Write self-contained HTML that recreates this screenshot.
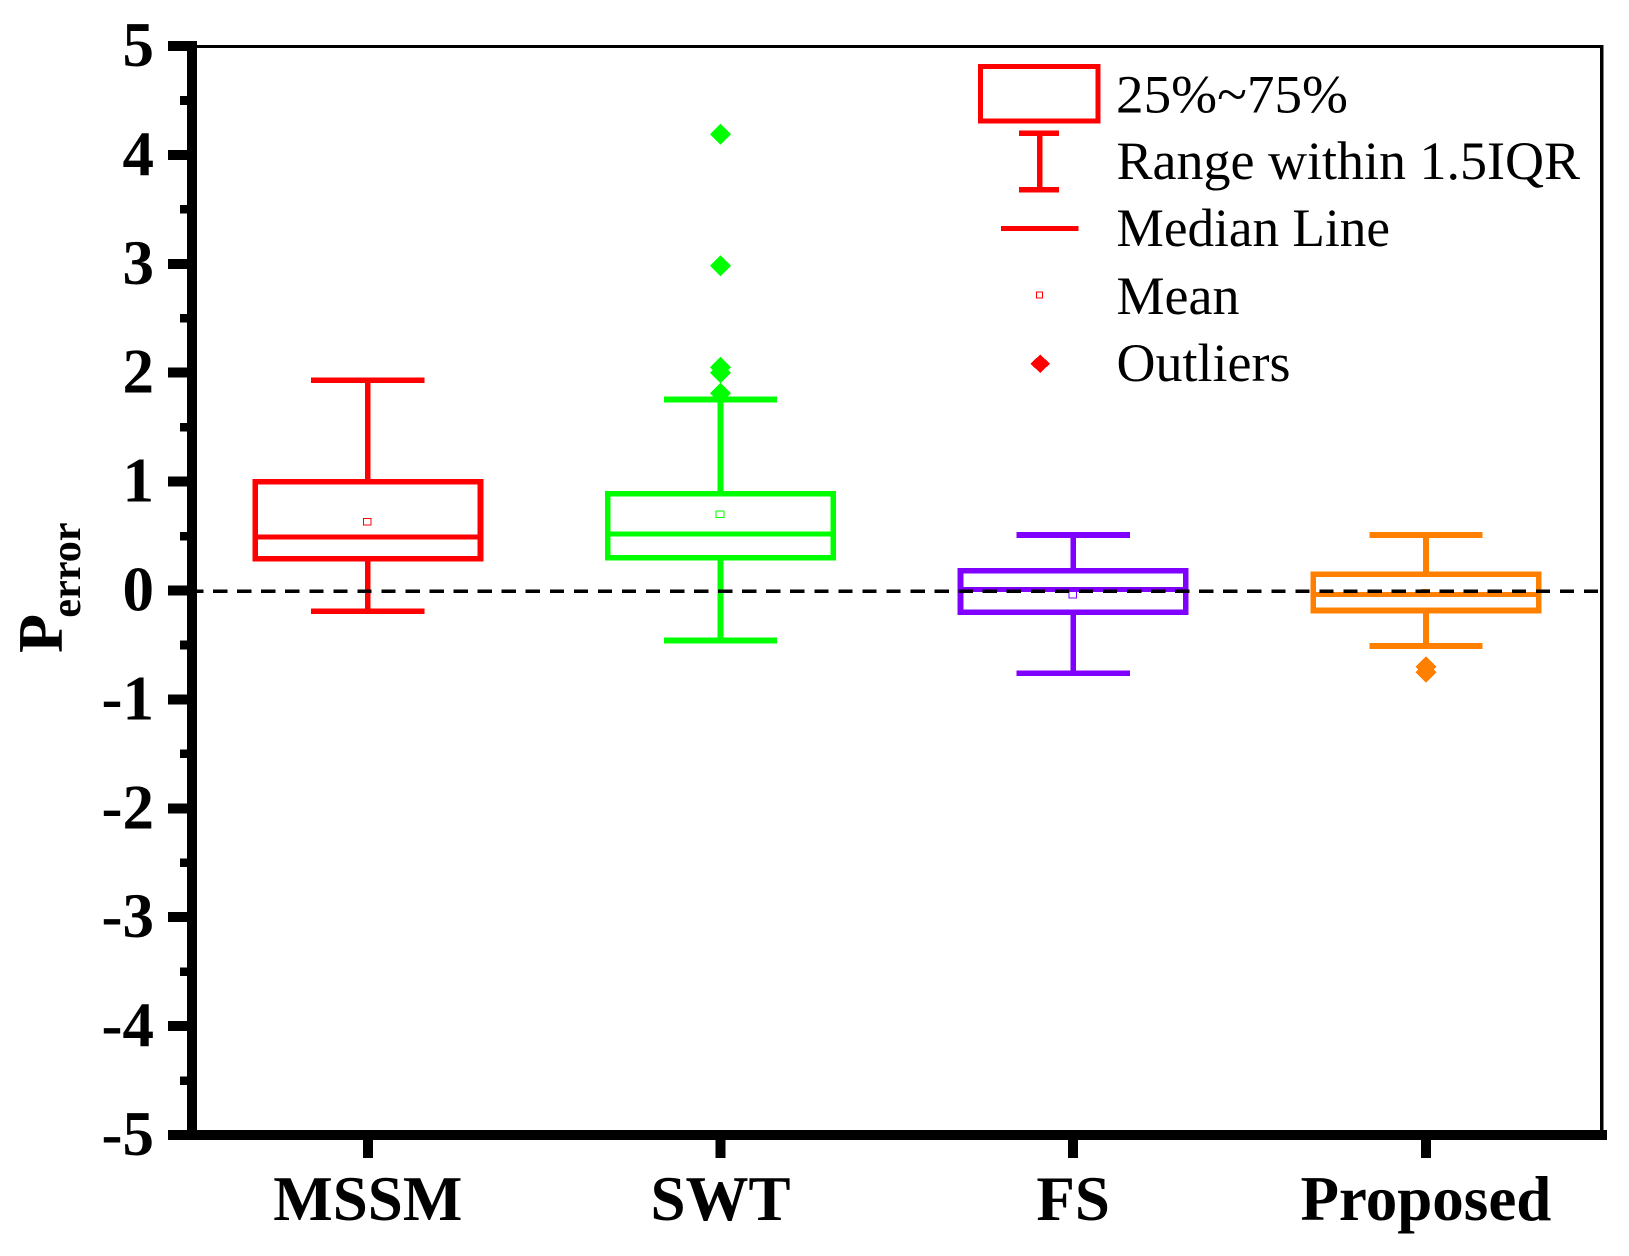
<!DOCTYPE html>
<html lang="en">
<head>
<meta charset="utf-8">
<title>Perror box chart</title>
<style>
html,body{margin:0;padding:0;background:#fff;}
svg{display:block;shape-rendering:crispEdges;}
text{font-family:"Liberation Serif","Times New Roman",serif;fill:#000;}
.tick{font-size:63px;font-weight:bold;}
.leg{font-size:54px;}
</style>
</head>
<body>
<svg id="chart" xmlns="http://www.w3.org/2000/svg" width="1629" height="1256" viewBox="0 0 1629 1256">
  <rect x="0" y="0" width="1629" height="1256" fill="#fff"/>
  <g id="marks"></g>
  <g id="axes"></g>
  <text transform="translate(62,653) rotate(-90)" font-weight="bold" font-size="64">P<tspan font-size="42.2" dy="18" dx="-3.8">error</tspan></text>
  <g>
    <rect x="980.5" y="66.5" width="117.7" height="54.7" fill="none" stroke="#f00" stroke-width="5"/>
    <path d="M1019 133H1059M1039.5 133V189.5M1019 189.5H1059" fill="none" stroke="#f00" stroke-width="5.5"/>
    <line x1="1001" x2="1078.5" y1="228.3" y2="228.3" stroke="#f00" stroke-width="5"/>
    <rect x="1036.3" y="291.8" width="6.3" height="6.3" fill="#fff" stroke="#f00" stroke-width="1"/>
    <polygon points="1040.2,354.5 1050,363.7 1040.2,373 1030.5,363.7" fill="#f00"/>
    <text class="leg" x="1116" y="112.3" textLength="232" lengthAdjust="spacingAndGlyphs">25%~75%</text>
    <text class="leg" x="1116.5" y="179">Range within 1.5IQR</text>
    <text class="leg" x="1116.5" y="245.8" textLength="273.5" lengthAdjust="spacingAndGlyphs">Median Line</text>
    <text class="leg" x="1116.5" y="314">Mean</text>
    <text class="leg" x="1116.5" y="381">Outliers</text>
  </g>
</svg>
<script>
const categories = ["MSSM", "SWT", "FS", "Proposed"];
const whiskerHighValues = [1.93, 1.754, 0.51, 0.51];
const q3Values = [1.0, 0.89, 0.18, 0.15];
const medianValues = [0.49, 0.52, 0.01, -0.037];
const q1Values = [0.29, 0.30, -0.20, -0.184];
const whiskerLowValues = [-0.19, -0.46, -0.76, -0.51];
const meanValues = [0.63, 0.70, -0.04, -0.02];
const outlierValues = [[], [4.19, 2.98, 2.05, 2.0, 1.81], [], [-0.70, -0.75]];
const seriesColors = ["#ff0000", "#00ff00", "#8000ff", "#ff8000"];
const yTickValues = [5, 4, 3, 2, 1, 0, -1, -2, -3, -4, -5];
const referenceValue = 0;

const NS = "http://www.w3.org/2000/svg";
const plotLeft = 192, plotRight = 1601.7, plotTop = 46.5, plotBottom = 1135;
const xScale = i => 367.8 + 352.7 * i;
const yScale = v => 590.5 - 108.9 * v;

function make(parent, tag, props, text) {
  const el = document.createElementNS(NS, tag);
  for (const k in props) el.setAttribute(k, props[k]);
  if (text !== undefined) el.textContent = text;
  parent.appendChild(el);
  return el;
}

const marks = document.getElementById("marks");
const axes = document.getElementById("axes");

/* frame */
const frame = make(axes, "path", {d: `M${plotLeft} ${plotTop}H${plotRight}V${plotBottom}`, fill: "none", stroke: "#000", "stroke-width": 3.2});



/* boxes */
categories.forEach((name, i) => {
  const cx = xScale(i), color = seriesColors[i];
  const group = make(marks, "g", {});
  
  

  const mean = make(group, "rect", {x: cx - 4.3, y: yScale(meanValues[i]) - 3.4, width: 7.7, height: 6.7, fill: "#fff", stroke: color, "stroke-width": 1});
  
  

  const whiskerUp = make(group, "path", {d: `M${cx - 56.6} ${yScale(whiskerHighValues[i])}H${cx + 56.6}M${cx} ${yScale(whiskerHighValues[i])}V${yScale(q3Values[i])}`, fill: "none", stroke: color, "stroke-width": 5.8});
  
  

  const whiskerDown = make(group, "path", {d: `M${cx - 56.6} ${yScale(whiskerLowValues[i])}H${cx + 56.6}M${cx} ${yScale(whiskerLowValues[i])}V${yScale(q1Values[i])}`, fill: "none", stroke: color, "stroke-width": 5.8});
  
  

  const box = make(group, "rect", {x: cx - 112.7, y: yScale(q3Values[i]), width: 225.4, height: yScale(q1Values[i]) - yScale(q3Values[i]), fill: "none", stroke: color, "stroke-width": 5.6});
  
  

  const median = make(group, "line", {x1: cx - 112.7, x2: cx + 112.7, y1: yScale(medianValues[i]), y2: yScale(medianValues[i]), stroke: color, "stroke-width": 5});
  
  

  outlierValues[i].forEach(v => {
    const oy = yScale(v);
    const ox = cx;
    const diamond = make(group, "polygon", {points: `${ox},${oy - 10.5} ${ox + 10.5},${oy} ${ox},${oy + 10.5} ${ox - 10.5},${oy}`, fill: color});
    
    
  });
});

/* reference line */
const refLine = make(marks, "line", {x1: 189, x2: 1599, y1: yScale(referenceValue) + 0.8, y2: yScale(referenceValue) + 0.8, stroke: "#000", "stroke-width": 3.3, "stroke-dasharray": "14.3 9.75"});



/* y axis */
const yAxisLine = make(axes, "rect", {x: 187, y: 41, width: 10, height: plotBottom - 41, fill: "#000"});



yTickValues.forEach((v, i) => {
  const ty = yScale(v);
  const tick = make(axes, "rect", {x: 168, y: ty - 5, width: plotLeft - 168, height: 10, fill: "#000"});
  
  

  const label = make(axes, "text", {class: "tick", x: 154, y: ty + 20, "text-anchor": "end"}, String(v));
  
  

  if (i < yTickValues.length - 1) {
    const minorY = yScale((v + yTickValues[i + 1]) / 2);
    const minor = make(axes, "rect", {x: 180, y: minorY - 4.3, width: plotLeft - 180, height: 8.6, fill: "#000"});
    
    
  }
});

/* x axis */
const xAxisLine = make(axes, "rect", {x: 168, y: plotBottom - 5, width: 1607 - 168, height: 10, fill: "#000"});



categories.forEach((name, i) => {
  const tx = xScale(i);
  const tick = make(axes, "rect", {x: tx - 5, y: plotBottom, width: 10, height: 23, fill: "#000"});
  
  

  const label = make(axes, "text", {class: "tick", x: tx, y: 1220, "text-anchor": "middle"}, name);
  
  
});
</script>
</body>
</html>
